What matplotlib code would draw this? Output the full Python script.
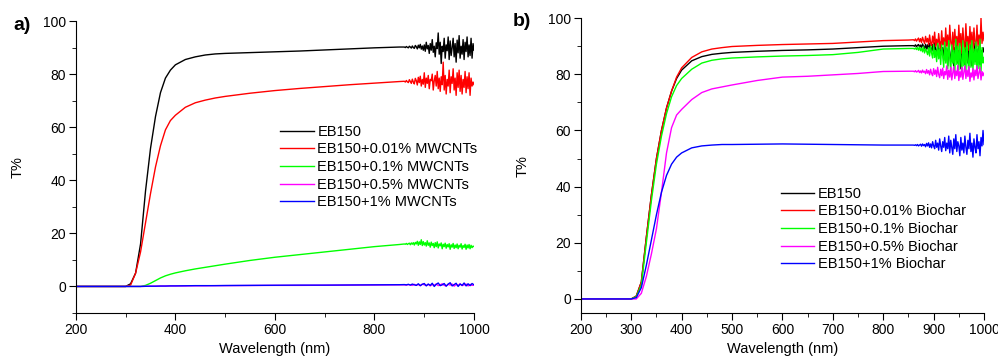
import numpy as np
import matplotlib
matplotlib.use("Agg")
import matplotlib.pyplot as plt
from matplotlib.ticker import MultipleLocator

plt.rcParams["font.family"] = ["Liberation Sans", "DejaVu Sans"]

# ---------------------------- data -------------------------------------#
wl_smooth = [200, 300, 310, 320, 330, 340, 350, 360, 370, 380, 390, 400,
             420, 440, 460, 480, 500, 550, 600, 650, 700, 750, 800, 850]

colors = ["black", "#ff0000", "#00ff00", "#ff00ff", "#0000ff"]
labels_a = ["EB150", "EB150+0.01% MWCNTs", "EB150+0.1% MWCNTs",
            "EB150+0.5% MWCNTs", "EB150+1% MWCNTs"]
labels_b = ["EB150", "EB150+0.01% Biochar", "EB150+0.1% Biochar",
            "EB150+0.5% Biochar", "EB150+1% Biochar"]

# panel a) smooth part
a_black = [0, 0, 1, 5, 16, 36, 52, 64, 73, 78.5, 81.5, 83.5, 85.5, 86.5, 87.2,
           87.6, 87.8, 88.1, 88.4, 88.7, 89.1, 89.5, 89.9, 90.2]
a_red = [0, 0, 0.5, 5, 13, 24, 35, 45, 53, 59, 62.5, 64.5, 67.5, 69.2, 70.2,
         71, 71.6, 72.8, 73.8, 74.6, 75.3, 76, 76.6, 77.2]
a_green = [0, 0, 0, 0, 0, 0.4, 1.2, 2.2, 3.2, 4.0, 4.6, 5.1, 5.9, 6.6, 7.2,
           7.8, 8.4, 9.8, 11.0, 12.0, 13.0, 14.0, 15.0, 15.8]
a_magenta = [0, 0, 0, 0, 0, 0.05, 0.1, 0.1, 0.15, 0.15, 0.2, 0.2, 0.2, 0.25,
             0.25, 0.3, 0.3, 0.35, 0.4, 0.4, 0.45, 0.5, 0.55, 0.6]
a_blue = [0, 0, 0, 0, 0, 0.05, 0.1, 0.1, 0.15, 0.15, 0.2, 0.2, 0.25, 0.3, 0.3,
          0.3, 0.35, 0.4, 0.45, 0.5, 0.5, 0.55, 0.6, 0.65]

# panel a) noisy tail, 860-1000 nm
a_black_n = [90.2, 90.0, 90.4, 90.1, 89.9, 90.5, 90.2, 89.8, 90.6, 90.0, 89.7,
             90.8, 90.3, 89.5, 90.9, 89.9, 91.2, 89.4, 90.6, 89.0, 91.0, 88.6,
             92.0, 89.5, 90.8, 87.8, 91.5, 89.0, 93.0, 88.2, 90.5, 86.5, 91.8,
             89.6, 95.5, 87.5, 92.0, 84.0, 90.5, 88.5, 93.5, 86.0, 91.0, 88.8,
             94.0, 85.5, 92.5, 87.0, 90.0, 93.5, 86.5, 91.5, 84.5, 92.8, 88.0,
             94.5, 86.0, 90.5, 87.5, 93.0, 85.5, 92.0, 88.5, 94.0, 86.5, 91.0,
             87.0, 93.5, 86.0, 91.5, 89.0]
a_red_n = [77.3, 77.0, 77.6, 77.1, 76.8, 77.9, 77.2, 76.5, 78.1, 77.0, 76.3,
           78.4, 77.5, 75.9, 78.8, 76.8, 79.2, 75.5, 78.0, 76.2, 80.5, 75.0,
           78.5, 76.5, 79.5, 74.5, 78.0, 77.5, 80.0, 74.0, 77.5, 79.5, 75.5,
           81.0, 74.5, 78.5, 73.5, 79.0, 76.0, 84.5, 74.0, 79.5, 72.5, 78.0,
           75.5, 81.5, 73.0, 79.0, 76.5, 82.0, 74.0, 78.5, 72.0, 80.5, 75.0,
           81.5, 73.5, 79.5, 72.5, 78.0, 75.0, 81.0, 73.0, 79.0, 74.5, 80.5,
           72.0, 78.5, 75.5, 77.0, 76.0]
a_green_n = [16.0, 15.9, 16.2, 15.8, 16.1, 16.3, 15.7, 16.4, 15.9, 16.5, 15.6,
             16.6, 16.0, 17.0, 15.5, 16.8, 15.8, 17.6, 15.4, 16.9, 15.6, 16.5,
             15.2, 17.2, 15.5, 16.4, 14.8, 16.7, 15.4, 16.2, 14.6, 16.5, 15.0,
             16.8, 14.5, 16.0, 15.3, 16.4, 14.2, 15.9, 15.0, 16.3, 14.4, 15.8,
             14.9, 16.1, 14.0, 15.7, 14.8, 16.2, 14.3, 15.6, 14.6, 16.0, 14.2,
             15.5, 14.8, 16.1, 14.1, 15.4, 14.7, 15.9, 14.0, 15.6, 14.5, 15.8,
             14.2, 15.5, 14.6, 15.2, 15.0]
a_magenta_n = [0.6, 0.5, 0.7, 0.6, 0.4, 0.8, 0.5, 0.7, 0.3, 0.9, 0.6, 0.4, 0.8,
               0.2, 0.7, 0.5, 0.9, 0.3, 0.6, 1.0, 0.4, 0.2, 0.8, 0.5, 0.9, 0.1,
               0.7, 0.4, 1.0, 0.3, 0.6, 0.9, 0.2, 0.8, 0.4, 0.5]
a_blue_n = [0.7, 0.6, 0.8, 0.5, 0.9, 0.6, 0.4, 1.0, 0.3, 0.8, 1.1, 0.2, 0.9,
            0.4, 1.2, 0.0, 0.8, 1.3, 0.3, 0.6, 1.1, 0.1, 0.9, 1.4, 0.2, 0.7,
            1.2, 0.0, 0.9, 0.4, 1.3, 0.2, 1.0, 0.3, 1.1, 0.6]

# panel b) smooth part
b_black = [0, 0, 1, 6, 22, 37, 50, 60, 68, 74, 78.5, 81.5, 84.8, 86.3, 87.1,
           87.5, 87.8, 88.2, 88.5, 88.7, 89, 89.5, 90, 90.2]
b_red = [0, 0, 1, 6, 22, 37, 50, 60, 68, 74, 79, 82.3, 86, 88, 89, 89.5, 89.9,
         90.3, 90.6, 90.8, 91.0, 91.5, 92, 92.2]
b_green = [0, 0, 0.8, 5, 20, 35, 48, 58, 66, 72, 76, 78.5, 81.8, 84, 85, 85.5,
           85.8, 86.2, 86.5, 86.7, 87, 87.8, 89, 89.2]
b_magenta = [0, 0, 0, 2, 8, 16, 25, 38, 52, 61, 65.5, 67.5, 71, 73.5, 74.8,
             75.5, 76.2, 77.8, 79, 79.3, 79.8, 80.3, 81, 81.1]
b_blue = [0, 0, 0.5, 4, 12, 21, 30, 38, 44, 48, 50.5, 52, 53.8, 54.5, 54.8, 55,
          55, 55.1, 55.2, 55.1, 55, 54.9, 54.8, 54.8]

# panel b) noisy tail, 860-1000 nm
b_black_n = [90.2, 90.0, 90.5, 89.8, 90.3, 90.6, 89.7, 90.4, 89.5, 90.8, 89.9,
             89.2, 90.7, 89.0, 90.5, 88.6, 91.0, 89.3, 88.2, 90.6, 87.8, 91.2,
             88.5, 87.0, 90.5, 88.8, 86.5, 91.5, 87.5, 89.5, 85.0, 90.8, 86.0,
             89.0, 83.0, 91.0, 87.0, 84.5, 90.0, 86.5, 82.5, 89.5, 85.5, 91.0,
             84.0, 88.5, 86.0, 82.0, 90.5, 85.0, 88.0, 83.5, 91.5, 86.5, 84.0,
             89.5, 85.5, 90.5, 83.0, 88.0, 86.0, 91.0, 84.5, 89.0, 85.0, 90.0,
             83.5, 88.5, 86.5, 89.5, 88.0]
b_red_n = [92.3, 92.0, 92.6, 91.8, 92.4, 92.9, 91.6, 92.7, 91.3, 93.2, 92.0,
           91.0, 93.5, 91.5, 92.8, 90.6, 94.0, 91.2, 90.2, 93.6, 91.0, 95.0,
           90.0, 92.5, 89.5, 94.5, 91.0, 89.0, 95.5, 90.5, 93.0, 88.5, 96.5,
           90.0, 94.0, 88.0, 97.5, 91.5, 89.0, 95.0, 88.5, 96.0, 90.5, 93.5,
           88.0, 97.5, 90.0, 94.5, 87.5, 96.5, 91.0, 89.0, 98.0, 90.0, 93.5,
           88.5, 97.0, 90.5, 95.0, 88.0, 96.5, 91.0, 89.5, 97.5, 90.0, 94.0,
           88.5, 100.0, 91.0, 95.0, 92.0]
b_green_n = [89.2, 89.0, 89.4, 88.8, 89.5, 88.6, 89.7, 88.4, 89.3, 88.0, 89.8,
             87.6, 89.0, 88.2, 87.0, 89.5, 86.5, 90.0, 87.5, 85.8, 90.5, 86.0,
             88.5, 84.5, 91.0, 85.5, 89.0, 83.5, 90.5, 86.5, 82.5, 91.5, 84.0,
             89.5, 82.0, 92.0, 85.5, 81.0, 90.5, 84.0, 88.5, 80.5, 92.5, 83.5,
             90.0, 81.5, 91.0, 85.0, 80.0, 92.0, 83.0, 89.5, 81.0, 91.5, 84.5,
             80.5, 90.5, 82.5, 92.0, 81.5, 89.0, 83.5, 91.5, 80.5, 90.0, 82.0,
             92.5, 81.0, 89.5, 84.0, 86.0]
b_magenta_n = [81.1, 80.9, 81.3, 80.8, 81.0, 81.4, 80.6, 81.2, 80.5, 81.5,
               80.7, 81.1, 80.2, 81.7, 80.4, 81.3, 79.8, 81.8, 80.3, 79.5, 82.0,
               80.0, 81.5, 79.2, 82.5, 80.0, 78.8, 81.8, 79.5, 82.2, 78.5, 81.0,
               79.8, 83.0, 78.2, 81.5, 79.0, 82.5, 78.0, 80.5, 82.8, 78.5, 81.2,
               79.5, 83.2, 77.8, 81.0, 79.0, 82.5, 78.2, 80.8, 83.0, 78.5, 81.5,
               79.2, 82.8, 77.5, 80.5, 79.0, 82.0, 78.0, 81.5, 79.5, 83.0, 78.5,
               80.5, 82.5, 78.0, 81.0, 79.5, 80.5]
b_blue_n = [54.8, 54.7, 54.9, 54.6, 55.0, 54.5, 54.8, 55.1, 54.4, 55.2, 54.6,
            55.0, 54.2, 55.4, 54.5, 55.6, 54.0, 55.2, 53.8, 56.0, 54.5, 53.5,
            56.5, 54.0, 55.5, 53.0, 57.0, 54.5, 52.5, 56.0, 54.0, 57.5, 52.8,
            55.5, 53.5, 58.0, 52.0, 56.5, 54.0, 51.5, 57.0, 53.5, 58.5, 52.5,
            56.0, 54.5, 51.0, 57.5, 53.0, 55.5, 52.0, 58.0, 54.0, 51.5, 56.5,
            53.5, 59.0, 52.5, 55.5, 50.5, 57.0, 54.0, 52.0, 58.5, 53.5, 56.0,
            51.0, 57.5, 54.5, 60.0, 55.0]


def series(smooth, noisy):
    wl_noise = np.linspace(860, 1000, len(noisy))
    return np.concatenate([wl_smooth, wl_noise]), np.concatenate([smooth, noisy])


def style(ax, ymin, xmajor, xminor):
    ax.spines["top"].set_visible(False)
    ax.spines["right"].set_visible(False)
    ax.set_xlim(200, 1000)
    ax.set_ylim(ymin, 100)
    ax.xaxis.set_major_locator(MultipleLocator(xmajor))
    ax.xaxis.set_minor_locator(MultipleLocator(xminor))
    ax.yaxis.set_major_locator(MultipleLocator(20))
    ax.yaxis.set_minor_locator(MultipleLocator(10))
    ax.tick_params(which="major", direction="out", length=5, labelsize=10, pad=2)
    ax.tick_params(which="minor", direction="out", length=3)
    ax.set_xlabel("Wavelength (nm)", fontsize=10.5, labelpad=4)
    ax.set_ylabel("T%", fontsize=10.5, labelpad=13)


fig = plt.figure(figsize=(9.98, 3.6), dpi=100)
ax1 = fig.add_axes([0.076, 0.1306, 0.399, 0.811])
ax2 = fig.add_axes([0.582, 0.1306, 0.404, 0.819])

for sm, nz, c, lab in zip([a_black, a_red, a_green, a_magenta, a_blue],
                          [a_black_n, a_red_n, a_green_n, a_magenta_n, a_blue_n],
                          colors, labels_a):
    x, y = series(sm, nz)
    ax1.plot(x, y, color=c, lw=1.0, label=lab)

for sm, nz, c, lab in zip([b_black, b_red, b_green, b_magenta, b_blue],
                          [b_black_n, b_red_n, b_green_n, b_magenta_n, b_blue_n],
                          colors, labels_b):
    x, y = series(sm, nz)
    ax2.plot(x, y, color=c, lw=1.0, label=lab)

style(ax1, -10, 200, 100)
style(ax2, -5, 100, 50)

leg_kw = dict(loc="upper left", frameon=False, fontsize=10.5, handlelength=2.3,
              handletextpad=0.25, labelspacing=0.25, borderpad=0, borderaxespad=0)
ax1.legend(bbox_to_anchor=(0.513, 0.645), **leg_kw)
ax2.legend(bbox_to_anchor=(0.496, 0.428), **leg_kw)

fig.text(0.013, 1 - 25 / 360, "a)", fontsize=14, fontweight="bold", va="center")
fig.text(0.514, 1 - 22 / 360, "b)", fontsize=14, fontweight="bold", va="center")

plt.savefig("out.png", dpi=100)
